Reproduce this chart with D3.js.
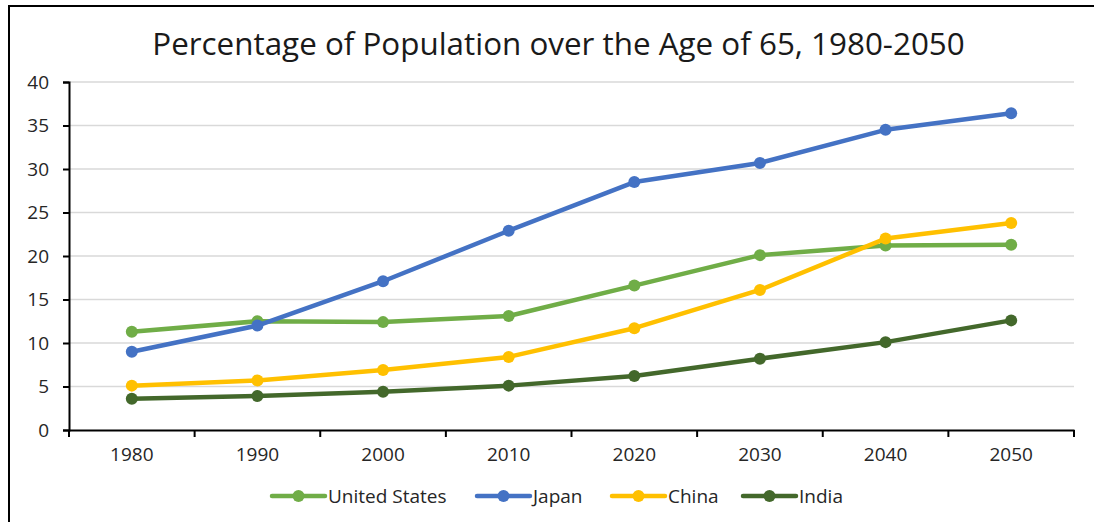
<!DOCTYPE html>
<html><head><meta charset="utf-8">
<script src="https://cdn.jsdelivr.net/npm/d3@7"></script>
<style>body{margin:0;background:#fff;}svg{display:block;}</style>
</head><body>
<svg id="c" width="1094" height="522"></svg>
<script>
const years = ["1980","1990","2000","2010","2020","2030","2040","2050"];
const unitedStates = [11.3, 12.5, 12.4, 13.1, 16.6, 20.1, 21.2, 21.3];
const japan = [9.0, 12.0, 17.1, 22.9, 28.5, 30.7, 34.5, 36.4];
const china = [5.1, 5.7, 6.9, 8.4, 11.7, 16.1, 22.0, 23.8];
const india = [3.6, 3.9, 4.4, 5.1, 6.2, 8.2, 10.1, 12.6];
const yTicks = [0,5,10,15,20,25,30,35,40];
const seriesNames = ["United States","Japan","China","India"];
const seriesColors = ["#70AD47","#4472C4","#FFC000","#43682B"];
const title = "Percentage of Population over the Age of 65, 1980-2050";

(function(){
const series = [unitedStates, japan, china, india].map((v,i)=>({name:seriesNames[i], color:seriesColors[i], values:v}));
const font = "'Open Sans', 'Noto Sans', sans-serif";
const svg = d3.select("#c");

// outer border
svg.append("rect").attr("x",9).attr("y",6).attr("width",1200).attr("height",600)
  .attr("fill","none").attr("stroke","#000").attr("stroke-width",2);

const mLeft = 69, mRight = 1074, mTop = 82, mBottom = 430;
const x = d3.scaleBand().domain(years).range([mLeft,mRight]).padding(0);
const y = d3.scaleLinear().domain([0,40]).range([mBottom,mTop]);

// gridlines
svg.append("g").selectAll("line").data(yTicks.filter(d=>d>0)).join("line")
  .attr("x1",mLeft).attr("x2",mRight).attr("y1",d=>y(d)).attr("y2",d=>y(d))
  .attr("stroke","#d9d9d9").attr("stroke-width",1.5);

// y axis
const yAxis = svg.append("g").attr("transform",`translate(${mLeft},0)`)
  .call(d3.axisLeft(y).tickValues(yTicks).tickSize(6).tickPadding(14));
yAxis.select(".domain").attr("stroke","#000").attr("stroke-width",2);
yAxis.selectAll(".tick line").attr("stroke","#000").attr("stroke-width",2);
yAxis.selectAll("text").attr("font-family",font).attr("font-size",19).attr("fill","#262626");

// x axis with ticks at category boundaries
const xAxis = svg.append("g").attr("transform",`translate(0,${mBottom})`)
  .call(d3.axisBottom(x).tickSize(0).tickPadding(18));
xAxis.select(".domain").attr("stroke","#000").attr("stroke-width",2);
xAxis.selectAll("text").attr("font-family",font).attr("font-size",19).attr("fill","#262626");
const bounds = years.map(d=>x(d)).concat([x(years[years.length-1])+x.bandwidth()]);
xAxis.append("g").selectAll("line").data(bounds).join("line")
  .attr("x1",d=>d).attr("x2",d=>d).attr("y1",0).attr("y2",7)
  .attr("stroke","#000").attr("stroke-width",2);

// lines
const line = d3.line().x((d,i)=>x(years[i])+x.bandwidth()/2).y(d=>y(d));
const g = svg.append("g");
series.forEach(s=>{
  g.append("path").attr("d",line(s.values)).attr("fill","none")
    .attr("stroke",s.color).attr("stroke-width",4.5).attr("stroke-linejoin","round").attr("stroke-linecap","round");
  g.append("g").selectAll("circle").data(s.values).join("circle")
    .attr("cx",(d,i)=>x(years[i])+x.bandwidth()/2).attr("cy",d=>y(d)).attr("r",6)
    .attr("fill",s.color);
});

// title
const t = svg.append("text").attr("x",(152+965)/2).attr("y",55).attr("text-anchor","middle")
  .attr("font-family",font).attr("font-size",26).attr("fill","#1a1a1a").text(title);
const w = t.node().getComputedTextLength();
t.attr("font-size", 26*813/w);

// legend
const legendX = [272, 477, 612, 743];
const ly = 496;
const lg = svg.append("g");
series.forEach((s,i)=>{
  const gx = legendX[i];
  lg.append("line").attr("x1",gx).attr("x2",gx+53).attr("y1",ly).attr("y2",ly)
    .attr("stroke",s.color).attr("stroke-width",4.5).attr("stroke-linecap","round");
  lg.append("circle").attr("cx",gx+26.5).attr("cy",ly).attr("r",6).attr("fill",s.color);
  lg.append("text").attr("x",gx+56).attr("y",ly+7).attr("font-family",font).attr("font-size",19)
    .attr("fill","#262626").text(s.name);
});
})();
</script>
</body></html>
